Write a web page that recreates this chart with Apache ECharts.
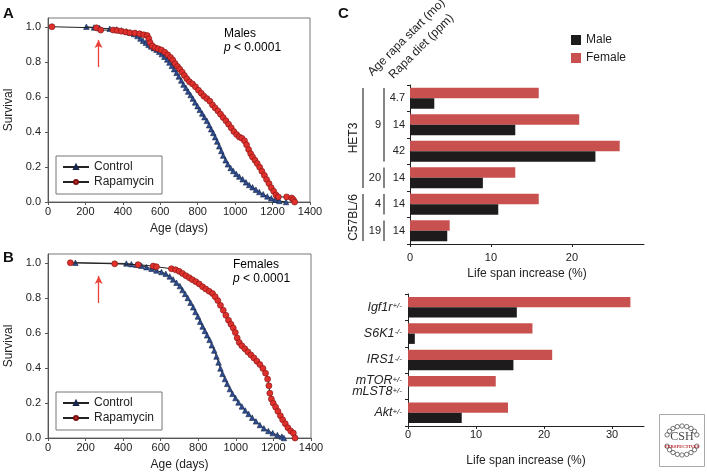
<!DOCTYPE html>
<html><head><meta charset="utf-8">
<script src="https://cdn.jsdelivr.net/npm/echarts@6/dist/echarts.min.js"></script>
<style>html,body{margin:0;padding:0;background:#fff}#c{width:707px;height:473px}</style>
</head><body><div id="c"></div>
<script>
// ---------- DATA ----------
// Panel A (males): [age in days, survival fraction]
const maleControl = [[205,1.0],[246,0.996],[276,0.992],[330,0.989],[366,0.985],[392,0.979],[419,0.973],[440,0.966],[460,0.958],[478,0.947],[494,0.933],[508,0.92],[523,0.909],[537,0.897],[551,0.888],[565,0.878],[580,0.869],[594,0.857],[608,0.844],[622,0.829],[637,0.813],[649,0.796],[662,0.777],[674,0.758],[687,0.737],[699,0.716],[712,0.693],[724,0.67],[737,0.651],[749,0.63],[762,0.61],[774,0.59],[786,0.568],[799,0.547],[811,0.526],[824,0.505],[836,0.484],[849,0.463],[861,0.438],[872,0.415],[883,0.394],[893,0.37],[904,0.345],[915,0.318],[926,0.291],[936,0.265],[949,0.238],[961,0.215],[976,0.194],[990,0.177],[1006,0.16],[1022,0.145],[1040,0.13],[1058,0.112],[1075,0.097],[1093,0.084],[1111,0.07],[1129,0.057],[1150,0.044],[1172,0.032],[1193,0.021],[1214,0.013],[1236,0.006],[1272,0]];
const maleRapamycin = [[21,1.0],[259,0.994],[282,0.981],[348,0.981],[369,0.979],[392,0.975],[416,0.97],[437,0.966],[464,0.964],[490,0.96],[512,0.954],[530,0.95],[539,0.931],[546,0.909],[558,0.89],[572,0.88],[589,0.874],[606,0.867],[624,0.855],[640,0.84],[655,0.825],[667,0.81],[679,0.79],[692,0.773],[704,0.758],[717,0.741],[729,0.722],[742,0.703],[756,0.686],[772,0.674],[788,0.657],[804,0.638],[819,0.621],[833,0.604],[849,0.59],[865,0.575],[879,0.554],[893,0.537],[908,0.52],[922,0.501],[936,0.482],[951,0.463],[965,0.444],[979,0.423],[993,0.402],[1008,0.385],[1022,0.371],[1036,0.364],[1050,0.349],[1061,0.326],[1072,0.299],[1083,0.276],[1093,0.257],[1106,0.238],[1118,0.219],[1131,0.198],[1143,0.175],[1156,0.152],[1168,0.128],[1181,0.105],[1193,0.082],[1206,0.061],[1218,0.04],[1231,0.029],[1275,0.029],[1302,0.023],[1311,0.013],[1318,0]];
// Panel B (females)
const femaleControl = [[146,1.0],[417,0.996],[444,0.992],[471,0.989],[497,0.983],[524,0.975],[551,0.966],[577,0.956],[604,0.947],[627,0.937],[648,0.922],[666,0.905],[684,0.886],[702,0.867],[716,0.844],[730,0.822],[744,0.799],[759,0.772],[773,0.746],[785,0.719],[798,0.693],[810,0.664],[823,0.636],[835,0.611],[847,0.586],[860,0.56],[872,0.529],[885,0.499],[897,0.465],[908,0.431],[918,0.397],[929,0.366],[942,0.336],[954,0.309],[968,0.279],[982,0.252],[998,0.228],[1014,0.203],[1032,0.18],[1050,0.157],[1068,0.137],[1087,0.116],[1107,0.095],[1128,0.074],[1149,0.055],[1173,0.04],[1196,0.028],[1221,0.017],[1245,0.008],[1256,0]];
const femaleRapamycin = [[119,1.0],[355,0.994],[480,0.989],[560,0.981],[577,0.977],[657,0.966],[679,0.96],[698,0.951],[716,0.939],[734,0.926],[752,0.915],[769,0.903],[787,0.892],[805,0.879],[823,0.863],[840,0.85],[858,0.837],[876,0.824],[890,0.806],[904,0.784],[918,0.757],[933,0.729],[947,0.7],[961,0.672],[974,0.649],[986,0.628],[997,0.602],[1007,0.571],[1018,0.545],[1032,0.526],[1048,0.509],[1064,0.491],[1080,0.474],[1096,0.457],[1112,0.438],[1128,0.419],[1144,0.397],[1158,0.37],[1169,0.336],[1176,0.298],[1181,0.256],[1189,0.222],[1199,0.199],[1212,0.176],[1224,0.152],[1237,0.127],[1249,0.104],[1263,0.082],[1277,0.059],[1292,0.04],[1306,0.028],[1315,0]];
const rapaStartDay = 270;
const survivalTicks = [0, 0.2, 0.4, 0.6, 0.8, 1.0];

// Panel C (top): rapamycin studies
const strain = ['HET3','HET3','HET3','HET3','C57BL/6','C57BL/6'];
const startAgeMo = ['9','9','9','20','4','19'];
const dietPpm = ['4.7','14','42','14','14','14'];
const rapaFemale = [15.9, 20.9, 25.9, 13.0, 15.9, 4.9];
const rapaMale = [3.0, 13.0, 22.9, 9.0, 10.9, 4.6];
const rapaTicks = [0, 10, 20];

// Panel C (bottom): genetic models
const geneNames = ['Igf1r','S6K1','IRS1','mTOR/mLST8','Akt'];
const genotypes = ['+/-','-/-','-/-','+/-','+/-'];
const geneFemale = [32.7, 18.3, 21.2, 12.9, 14.7];
const geneMale = [16.0, 1.0, 15.5, 0, 7.9];
const geneTicks = [0, 10, 20, 30];

// ---------- CHART ----------
const F = '"Liberation Sans", Arial, Helvetica, sans-serif';
const AX = '#555';
const TXT = '#222';
const chart = echarts.init(document.getElementById('c'), null, {renderer:'canvas'});

function survX(gi){
  return {gridIndex:gi, type:'value', min:0, max:1400, interval:200,
    name:'Age (days)', nameLocation:'middle', nameGap:21,
    nameTextStyle:{fontFamily:F, fontSize:12, color:TXT},
    axisLine:{show:true, lineStyle:{color:AX}},
    axisTick:{show:true, length:3, lineStyle:{color:AX}},
    axisLabel:{fontFamily:F, fontSize:11, color:TXT, margin:4, formatter:v=>String(v)},
    splitLine:{show:false}};
}
function survY(gi){
  return {gridIndex:gi, type:'value', min:0, max:1.05,
    name:'Survival', nameLocation:'middle', nameGap:33,
    nameTextStyle:{fontFamily:F, fontSize:12, color:TXT},
    axisLine:{show:true, lineStyle:{color:AX}},
    axisTick:{show:true, length:3, lineStyle:{color:AX}, customValues:survivalTicks},
    axisLabel:{fontFamily:F, fontSize:11, color:TXT, margin:7, customValues:survivalTicks, formatter:v=>v.toFixed(1)},
    splitLine:{show:false}};
}
function arrow(){
  return {silent:true, animation:false, symbol:['none','arrow'], symbolSize:[6,8],
    lineStyle:{color:'#e8423a', width:1.3, type:'solid'}, itemStyle:{color:'#e8423a'}, label:{show:false},
    data:[[{coord:[rapaStartDay,0.77]},{coord:[rapaStartDay,0.925]}]]};
}
function ctrlSeries(data, gi){
  return {type:'line', name:'Control', xAxisIndex:gi, yAxisIndex:gi, data,
    symbol:'triangle', symbolSize:5.5, showSymbol:true, showAllSymbol:true,
    lineStyle:{color:'#222', width:1}, itemStyle:{color:'#2d4b8e', borderColor:'#16264a', borderWidth:0.6},
    emphasis:{disabled:true}, markLine:arrow(), z:2};
}
function rapaSeries(data, gi){
  return {type:'line', name:'Rapamycin', xAxisIndex:gi, yAxisIndex:gi, data,
    symbol:'circle', symbolSize:6, showSymbol:true, showAllSymbol:true,
    lineStyle:{color:'#222', width:1}, itemStyle:{color:'#e0302c', borderColor:'#7a1010', borderWidth:0.6},
    emphasis:{disabled:true}, z:3};
}
function barX(gi, max, ticks, margin, gap){
  return {gridIndex:gi, type:'value', min:0, max,
    name:'Life span increase (%)', nameLocation:'middle', nameGap:gap,
    nameTextStyle:{fontFamily:F, fontSize:12, color:TXT},
    axisLine:{show:true, lineStyle:{color:'#222'}},
    axisTick:{show:true, length:3, lineStyle:{color:'#222'}, customValues:ticks},
    axisLabel:{fontFamily:F, fontSize:11, color:TXT, margin, customValues:ticks},
    splitLine:{show:false}};
}
const legendCommon = {orient:'vertical', itemWidth:26, itemHeight:5, itemGap:3,
  borderColor:'#777', borderWidth:1, padding:[5,8,6,6],
  textStyle:{fontFamily:F, fontSize:12, color:TXT}, selectedMode:false};

chart.setOption({
  animation:false,
  textStyle:{fontFamily:F},
  grid:[
    {left:48, top:18, width:262, height:184, show:true, borderColor:'#777', borderWidth:1},
    {left:48, top:254, width:263, height:184, show:true, borderColor:'#777', borderWidth:1},
    {left:410, top:85, width:234, height:159},
    {left:408, top:294, width:236, height:132}
  ],
  xAxis:[survX(0), survX(1), barX(2, 28.9, rapaTicks, 8, 24), barX(3, 34.7, geneTicks, 3, 29)],
  yAxis:[survY(0), survY(1),
    {gridIndex:2, type:'category', data:dietPpm, inverse:true,
      axisLine:{show:true, lineStyle:{color:'#222'}},
      axisTick:{show:true, length:3, lineStyle:{color:'#222'}},
      axisLabel:{fontFamily:F, fontSize:11, color:TXT, margin:5}},
    {gridIndex:3, type:'category', data:geneNames, inverse:true,
      axisLine:{show:true, lineStyle:{color:'#222'}},
      axisTick:{show:true, length:3, lineStyle:{color:'#222'}},
      axisLabel:{margin:6, formatter:(v,i)=>v.split('/').map(p=>'{n|'+p+'}{s|'+genotypes[i]+'}').join('\n'),
        rich:{n:{fontFamily:F, fontStyle:'italic', fontSize:12.5, color:TXT, lineHeight:11},
              s:{fontFamily:F, fontStyle:'italic', fontSize:8, color:TXT, verticalAlign:'top', lineHeight:11}}}}
  ],
  legend:[
    Object.assign({data:['Control','Rapamycin'], left:56, top:156}, legendCommon),
    Object.assign({data:['Control','Rapamycin'], left:56, top:392}, legendCommon),
    {data:['Male','Female'], left:566, top:29, orient:'vertical', icon:'rect', itemWidth:10, itemHeight:10, itemGap:6,
      selectedMode:false, textStyle:{fontFamily:F, fontSize:12, color:TXT}}
  ],
  series:[
    ctrlSeries(maleControl, 0), rapaSeries(maleRapamycin, 0),
    ctrlSeries(femaleControl, 1), rapaSeries(femaleRapamycin, 1),
    {type:'bar', name:'Female', xAxisIndex:2, yAxisIndex:2, data:rapaFemale, barWidth:10.5, barGap:'0%', itemStyle:{color:'#c8504e'}, emphasis:{disabled:true}},
    {type:'bar', name:'Male', xAxisIndex:2, yAxisIndex:2, data:rapaMale, barWidth:10.5, barGap:'0%', itemStyle:{color:'#1e1b1c'}, emphasis:{disabled:true}},
    {type:'bar', name:'Female', xAxisIndex:3, yAxisIndex:3, data:geneFemale, barWidth:10.3, barGap:'0%', itemStyle:{color:'#c8504e'}, emphasis:{disabled:true}},
    {type:'bar', name:'Male', xAxisIndex:3, yAxisIndex:3, data:geneMale, barWidth:10.3, barGap:'0%', itemStyle:{color:'#1e1b1c'}, emphasis:{disabled:true}}
  ]
});

// ---------- ANNOTATIONS ----------
function runs(arr){
  const out=[]; let s=0;
  for(let i=1;i<=arr.length;i++){ if(i===arr.length||arr[i]!==arr[s]){ out.push({v:arr[s], s, e:i-1}); s=i; } }
  return out;
}
const yPx = i => chart.convertToPixel({yAxisIndex:2}, i);
const band = Math.abs(yPx(1) - yPx(0));
const g = [];
const ln = (x, y1, y2) => ({type:'line', shape:{x1:x, y1, x2:x, y2}, style:{stroke:'#333', lineWidth:1.2}, silent:true});
runs(startAgeMo).forEach(r=>{
  const y1 = yPx(r.s) - band/2 + 3, y2 = yPx(r.e) + band/2 - 3;
  g.push(ln(384, y1, y2));
  g.push({type:'text', x:381, y:(yPx(r.s)+yPx(r.e))/2, style:{text:r.v, font:'11px '+F, fill:TXT, textAlign:'right', textVerticalAlign:'middle'}});
});
runs(strain).forEach(r=>{
  const y1 = yPx(r.s) - band/2 + 3, y2 = yPx(r.e) + band/2 - 3;
  g.push(ln(363, y1, y2));
  g.push({type:'text', x:354, y:(y1+y2)/2, rotation:Math.PI/2, style:{text:r.v, font:'12px '+F, fill:TXT, textAlign:'center', textVerticalAlign:'middle'}});
});
// column headers
g.push({type:'text', x:370, y:74, rotation:Math.PI/4, style:{text:'Age rapa start (mo)', font:'12px '+F, fill:TXT, textAlign:'left', textVerticalAlign:'middle'}});
g.push({type:'text', x:391, y:77, rotation:Math.PI/4, style:{text:'Rapa diet (ppm)', font:'12px '+F, fill:TXT, textAlign:'left', textVerticalAlign:'middle'}});
// panel letters
[['A',3,13.5],['B',3,258],['C',338,13.5]].forEach(p=>g.push({type:'text', x:p[1], y:p[2], style:{text:p[0], font:'bold 15px '+F, fill:'#111', textAlign:'left', textVerticalAlign:'middle'}}));
// sex / p-value texts
const pRich = {i:{fontFamily:F, fontSize:12, fontStyle:'italic', color:TXT}, t:{fontFamily:F, fontSize:12, color:TXT}};
g.push({type:'text', x:224, y:26, style:{text:'{t|Males}\n{i|p}{t| < 0.0001}', rich:pRich, lineHeight:14.5, textAlign:'left', textVerticalAlign:'top'}});
g.push({type:'text', x:233, y:257, style:{text:'{t|Females}\n{i|p}{t| < 0.0001}', rich:pRich, lineHeight:14.5, textAlign:'left', textVerticalAlign:'top'}});
// CSH logo
g.push({type:'rect', shape:{x:659.5, y:414.5, width:45, height:52}, style:{fill:'#fff', stroke:'#aaa', lineWidth:1}});
for(let k=0;k<9;k++){
  const a1 = Math.PI*(1.12 + 0.76*k/8), a2 = Math.PI*(0.12 + 0.76*k/8);
  g.push({type:'circle', shape:{cx:682+16*Math.cos(a1), cy:440+14*Math.sin(a1), r:2.2}, style:{fill:'none', stroke:'#555', lineWidth:0.8}});
  g.push({type:'circle', shape:{cx:682+16*Math.cos(a2), cy:441+14*Math.sin(a2), r:2.2}, style:{fill:'none', stroke:'#555', lineWidth:0.8}});
}
g.push({type:'text', x:682, y:436.5, style:{text:'CSH', font:'12px "Liberation Serif", serif', fill:'#444', textAlign:'center', textVerticalAlign:'middle'}});
g.push({type:'text', x:682, y:446.5, style:{text:'PERSPECTIVES', font:'bold 4.6px "Liberation Serif", serif', fill:'#b2222a', textAlign:'center', textVerticalAlign:'middle'}});
chart.setOption({graphic:g});
</script>
</body></html>
